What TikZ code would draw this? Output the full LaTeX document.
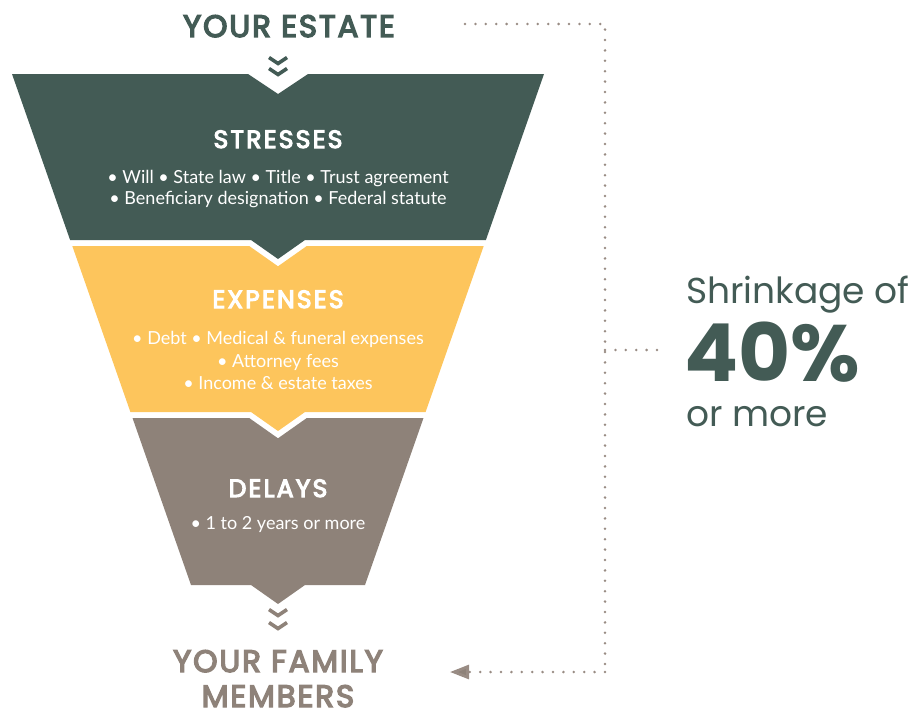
\documentclass[tikz,border=0pt]{standalone}
\usepackage{fontspec}
\usetikzlibrary{arrows.meta}
\newfontfamily\headfont{Poppins}
\newfontfamily\secfont{Poppins}[FakeBold=4.5,LetterSpace=9]
\newfontfamily\titlefont{Poppins}[FakeBold=4.5,LetterSpace=6]
\newfontfamily\bodyfont{Lato}
\definecolor{fgreen}{HTML}{435B55}
\definecolor{fyellow}{HTML}{FDC55C}
\definecolor{ftaupe}{HTML}{8E8279}
\definecolor{fdot}{HTML}{998C84}
\begin{document}
\begin{tikzpicture}[x=1pt,y=-1pt,
  head/.style={anchor=base,inner sep=0pt,font=\secfont\fontsize{25}{30}\selectfont,text=white},
  body/.style={anchor=base,inner sep=0pt,font=\bodyfont\fontsize{18}{22}\selectfont,text=white},
  title/.style={anchor=base,inner sep=0pt,font=\titlefont\fontsize{31}{38}\selectfont},
  side/.style={anchor=base west,inner sep=0pt,text=fgreen,font=\headfont\fontsize{36}{42}\selectfont},
  chev/.style={line width=3.6pt,line join=miter,line cap=butt},
  dotline/.style={draw=fdot,line width=2.8pt,line cap=round,dash pattern=on 0pt off 10.4pt}]
\useasboundingbox (0,0) rectangle (917,717);
% funnel sections
\fill[fgreen] (12,74) -- (248,74) -- (278,94) -- (308,74) -- (544,74) -- (485.9,240) -- (305,240) -- (278,259) -- (251,240) -- (70.1,240) -- cycle;
\fill[fyellow] (72.3,246) -- (249.2,246) -- (278,266.3) -- (306.8,246) -- (483.7,246) -- (425.6,412) -- (305,412) -- (278,431) -- (251,412) -- (130.4,412) -- cycle;
\fill[ftaupe] (132.5,418) -- (249.2,418) -- (278,438.3) -- (306.8,418) -- (423.5,418) -- (365,585) -- (305,585) -- (278,604) -- (251,585) -- (191,585) -- cycle;
% chevrons
\draw[chev,fgreen] (269,57.5) -- (278,63.5) -- (287,57.5);
\draw[chev,fgreen] (269,68.5) -- (278,74.5) -- (287,68.5);
\draw[chev,ftaupe] (269,609.5) -- (278,615.5) -- (287,609.5);
\draw[chev,ftaupe] (269,622.5) -- (278,628.5) -- (287,622.5);
% titles
\node[title,text=fgreen] (estate) at (289,37) {YOUR ESTATE};
\node[title,text=ftaupe] (family1) at (278,672) {YOUR FAMILY};
\node[title,text=ftaupe] (family2) at (278,707) {MEMBERS};
% section texts
\node[head] (stresses) at (278,148) {STRESSES};
\node[body] (s1) at (278,183) {• Will • State law • Title • Trust agreement};
\node[body] (s2) at (278,204) {• Beneficiary designation • Federal statute};
\node[head] (expenses) at (278,308) {EXPENSES};
\node[body] (e1) at (278,344) {• Debt • Medical \& funeral expenses};
\node[body] (e2) at (278,367) {• Attorney fees};
\node[body] (e3) at (278,389) {• Income \& estate taxes};
\node[head] (delays) at (278,497) {DELAYS};
\node[body] (d1) at (278,529) {• 1 to 2 years or more};
% side text
\node[side] (shrink) at (686,303) {Shrinkage of};
\node[side,text depth=0pt,font=\headfont\bfseries\fontsize{80}{90}\selectfont] (pct) at (684,381) {40\%};
\node[side] (more) at (686,426) {or more};
% dotted connector
\coordinate (c0) at (465,24);
\coordinate (c1) at (605,24);
\coordinate (c2) at (605,672);
\coordinate (atip) at (450,672);
\coordinate (m1) at (605,350);
\coordinate (m2) at (660,350);
\draw[dotline] (c0) -- (c1) -- (c2);
\draw[dotline] (m1) -- (m2);
\draw[dotline,-{Triangle[length=19pt,width=14pt,fill=ftaupe]}] (c2) -- (atip);
\end{tikzpicture}
\end{document}
